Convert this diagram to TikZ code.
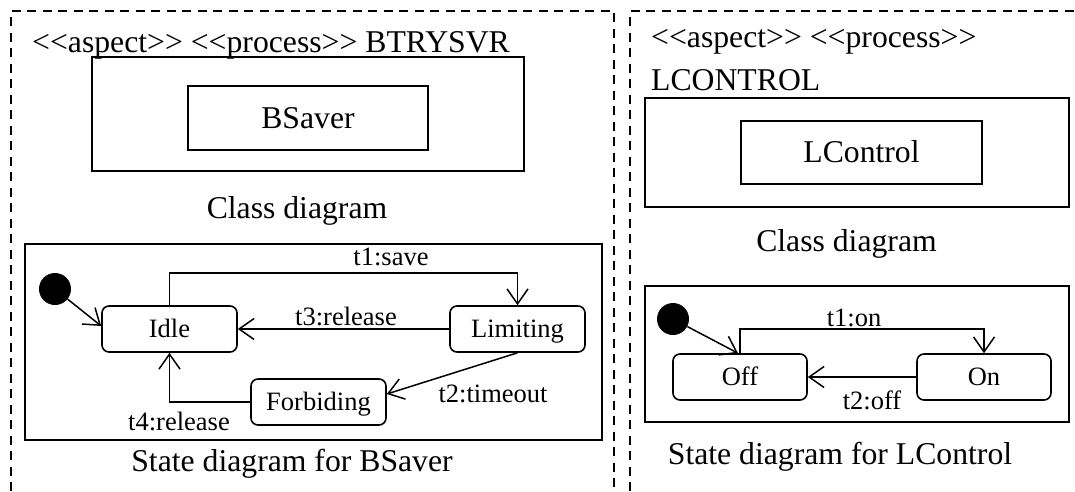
\documentclass[tikz,border=0pt]{standalone}
\usepackage{fontspec}
\setmainfont{Liberation Serif}[Ligatures=TeXOff]
\usetikzlibrary{arrows.meta,calc}
\newcommand\bigtxt{\fontsize{31.7}{38}\selectfont}
\newcommand\smalltxt{\fontsize{26.5}{32}\selectfont}
\tikzset{
  frameline/.style={line width=2.4pt, dash pattern=on 9pt off 6.5pt},
  plainbox/.style={draw, line width=1.8pt, inner sep=0pt},
  classbox/.style={plainbox, font=\bigtxt, text height=20.9pt, text depth=0pt},
  statebox/.style={draw, line width=1.6pt, rounded corners=7pt, inner sep=0pt,
    minimum width=135pt, minimum height=46pt,
    font=\smalltxt, text height=17.5pt, text depth=0pt},
  initdot/.style={circle, fill=black, minimum size=32pt, inner sep=0pt},
  trans/.style={line width=1.5pt,
    -{Straight Barb[length=15pt,width=21pt,line width=1.5pt]}},
  tlabel/.style={font=\smalltxt, anchor=base, inner sep=0pt},
  bigtext/.style={font=\bigtxt, inner sep=0pt},
}
\begin{document}
\begin{tikzpicture}[x=1pt,y=-1pt]
\useasboundingbox (0,0) rectangle (1075,491);

% dashed package frames
\draw[frameline] (11,491) -- (11,11) -- (614,11) -- (614,491);
\draw[frameline] (630,491) -- (630,11) -- (1075,11);

% ---------- BTRYSVR ----------
\node[bigtext, anchor=base west] (ttlA) at (32,52) {<<aspect>> <<process>> BTRYSVR};
\node[plainbox, minimum width=432pt, minimum height=114pt] (clsA) at (308,114) {};
\node[classbox, minimum width=240pt, minimum height=64pt] (bsaver) at (308,118) {BSaver};
\node[bigtext, anchor=base] (capA1) at (297,218) {Class diagram};

\node[plainbox, minimum width=577pt, minimum height=196pt] (stA) at (313.5,342) {};
\node[initdot] (initA) at (55,289) {};
\node[statebox] (idle) at (169.5,329) {Idle};
\node[statebox] (limiting) at (517.5,329) {Limiting};
\node[statebox] (forbiding) at (318.5,402) {Forbiding};

\draw[trans] (initA) -- ($(idle.west)+(0,-3)$);
\draw[trans] (idle.north) -- ++(0,-32) -| (limiting.north);
\draw[trans] (limiting.west) -- (idle.east);
\draw[trans] (limiting.south) -- ($(forbiding.east)+(0,-8)$);
\draw[trans] (forbiding.west) -| (idle.south);

\node[tlabel] (lt1) at (391,265) {t1:save};
\node[tlabel] (lt3) at (346,325) {t3:release};
\node[tlabel] (lt2) at (493,402) {t2:timeout};
\node[tlabel] (lt4) at (179,430) {t4:release};

\node[bigtext, anchor=base] (capA2) at (292,471) {State diagram for BSaver};

% ---------- LCONTROL ----------
\node[bigtext, anchor=base west] (ttlB1) at (651,47) {<<aspect>> <<process>>};
\node[bigtext, anchor=base west] (ttlB2) at (651,90) {LCONTROL};
\node[plainbox, minimum width=424pt, minimum height=109pt] (clsB) at (857,152.5) {};
\node[classbox, minimum width=241pt, minimum height=63pt] (lcontrol) at (861.5,152.5) {LControl};
\node[bigtext, anchor=base] (capB1) at (846.5,251) {Class diagram};

\node[plainbox, minimum width=424pt, minimum height=136pt] (stB) at (857,354) {};
\node[initdot] (initB) at (673,319) {};
\node[statebox, minimum width=134pt] (off) at (740,377) {Off};
\node[statebox, minimum width=134pt] (on) at (984,377) {On};

\draw[trans] (initB) -- ($(off.north)+(-2,0)$);
\draw[trans] (off.north) -- ++(0,-24) -| (on.north);
\draw[trans] (on.west) -- (off.east);

\node[tlabel] (lb1) at (854,326) {t1:on};
\node[tlabel] (lb2) at (872,409) {t2:off};

\node[bigtext, anchor=base] (capB2) at (840,464) {State diagram for LControl};
\end{tikzpicture}
\end{document}
